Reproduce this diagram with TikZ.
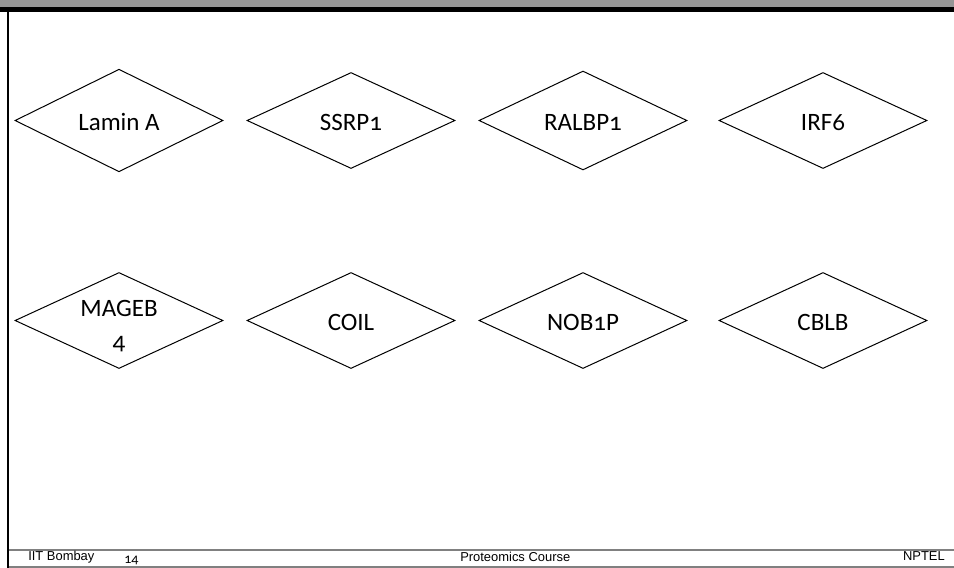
\documentclass[tikz,border=0pt]{standalone}
\usepackage{fontspec}
\setmainfont{Carlito}[Numbers=OldStyle]
\newfontfamily\footfont{Liberation Sans}
\usetikzlibrary{shapes.geometric}
\definecolor{bargray}{HTML}{969696}
\definecolor{linegray}{HTML}{808080}
\tikzset{
  diam/.style={diamond, draw=black, line width=0.75pt, minimum width=156pt,
    minimum height=72pt, inner sep=0pt, font=\fontsize{18.75}{24.75}\selectfont,
    text height=15.5pt, text depth=0.4pt},
  lbl/.style={inner sep=0pt, align=center, font=\fontsize{18.75}{24.75}\selectfont},
  foot/.style={inner sep=0pt, font=\footfont\fontsize{9.7}{11}\selectfont},
  pagenum/.style={inner sep=0pt, font=\fontsize{10.5}{12}\selectfont},
}
\begin{document}
\begin{tikzpicture}[x=0.75pt, y=-0.75pt]
\useasboundingbox (0,0) rectangle (954,568);
% top bar
\fill[bargray] (0,0) rectangle (954,6.7);
\fill[black] (0,6.7) rectangle (954,12);
% left border
\fill[black] (7,12) rectangle (9,568);
% footer lines
\draw[linegray, line width=1.5pt] (9,550.3) -- (954,550.3);
\draw[linegray, line width=1.1pt] (9,567.2) -- (954,567.2);
% row 1
\node[diam] (lamin) at (119,120.5) {Lamin A};
\node[diam] (ssrp) at (351,120.5) {SSRP1};
\node[diam] (ralbp) at (583,120.5) {RALBP1};
\node[diam] (irf) at (823,120.5) {IRF6};
% row 2
\node[diam] (mageb) at (119,320.5) {};
\node[lbl] (magebt) at (119,326) {MAGEB\\4};
\node[diam] (coil) at (351,320.5) {COIL};
\node[diam] (nob) at (583,320.5) {NOB1P};
\node[diam] (cblb) at (823,320.5) {CBLB};
% footer texts
\node[foot, anchor=base west] (iit) at (28,560.7) {IIT Bombay};
\node[pagenum, anchor=base west] (pg) at (124,563) {14};
\node[foot, anchor=base west] (course) at (460,561) {Proteomics Course};
\node[foot, anchor=base east] (nptel) at (945,560.5) {NPTEL};
\end{tikzpicture}
\end{document}
